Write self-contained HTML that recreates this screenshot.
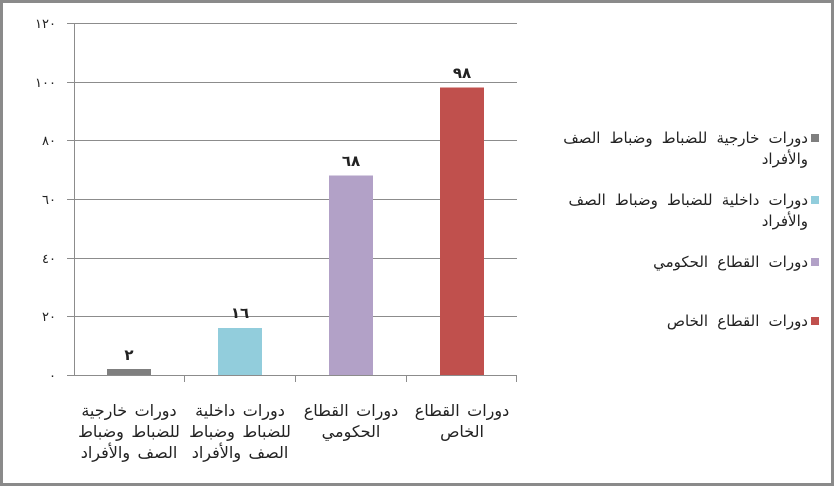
<!DOCTYPE html>
<html><head><meta charset="utf-8"><style>
html,body{margin:0;padding:0;background:#fff;}
svg{display:block;}
text{font-family:"Liberation Sans","DejaVu Sans","Noto Sans CJK SC",sans-serif;}
</style></head><body>
<svg width="834" height="486" viewBox="0 0 834 486" xmlns="http://www.w3.org/2000/svg">
<rect x="1.5" y="1.5" width="831" height="483" fill="#fff" stroke="#8a8a8a" stroke-width="3"/>
<g stroke="#8c8c8c" stroke-width="1">
<line x1="67" y1="23.5" x2="517" y2="23.5"/>
<line x1="67" y1="82.5" x2="517" y2="82.5"/>
<line x1="67" y1="140.5" x2="517" y2="140.5"/>
<line x1="67" y1="199.5" x2="517" y2="199.5"/>
<line x1="67" y1="258.5" x2="517" y2="258.5"/>
<line x1="67" y1="316.5" x2="517" y2="316.5"/>
<line x1="67" y1="375.5" x2="517" y2="375.5"/>
<line x1="74.5" y1="23" x2="74.5" y2="375"/>
<line x1="184.5" y1="375" x2="184.5" y2="382"/>
<line x1="295.5" y1="375" x2="295.5" y2="382"/>
<line x1="406.5" y1="375" x2="406.5" y2="382"/>
<line x1="516.5" y1="375" x2="516.5" y2="382"/>
</g>
<g font-size="13" fill="#222" text-anchor="end" letter-spacing="2">
<text x="56" y="28">١٢٠</text>
<text x="56" y="87">١٠٠</text>
<text x="56" y="145">٨٠</text>
<text x="56" y="204">٦٠</text>
<text x="56" y="263">٤٠</text>
<text x="56" y="321">٢٠</text>
<text x="56" y="380">٠</text>
</g>
<rect x="107" y="369" width="44" height="6" fill="#7f7f7f"/>
<rect x="218" y="328" width="44" height="47" fill="#92cddc"/>
<rect x="329" y="175.5" width="44" height="199.5" fill="#b2a1c7"/>
<rect x="440" y="87.5" width="44" height="287.5" fill="#c0504d"/>
<g font-size="15" font-weight="bold" fill="#222" text-anchor="middle" letter-spacing="3">
<text x="129" y="360">٢</text>
<text x="240" y="318">١٦</text>
<text x="351" y="166">٦٨</text>
<text x="462" y="78">٩٨</text>
</g>
<g font-size="16" fill="#222" text-anchor="middle" word-spacing="3">
<text x="129" y="416">دورات خارجية</text>
<text x="129" y="437">للضباط وضباط</text>
<text x="129" y="458">الصف والأفراد</text>
<text x="240" y="416">دورات داخلية</text>
<text x="240" y="437">للضباط وضباط</text>
<text x="240" y="458">الصف والأفراد</text>
<text x="351" y="416">دورات القطاع</text>
<text x="351" y="437">الحكومي</text>
<text x="462" y="416">دورات القطاع</text>
<text x="462" y="437">الخاص</text>
</g>
<rect x="811" y="134" width="8" height="8" fill="#7f7f7f"/>
<rect x="811" y="196" width="8" height="8" fill="#92cddc"/>
<rect x="811" y="258" width="8" height="8" fill="#b2a1c7"/>
<rect x="811" y="317" width="8" height="8" fill="#c0504d"/>
<g font-size="15" fill="#222" text-anchor="end" word-spacing="5">
<text x="808" y="143">دورات خارجية للضباط وضباط الصف</text>
<text x="808" y="164">والأفراد</text>
<text x="808" y="205">دورات داخلية للضباط وضباط الصف</text>
<text x="808" y="226">والأفراد</text>
<text x="808" y="267">دورات القطاع الحكومي</text>
<text x="808" y="326">دورات القطاع الخاص</text>
</g>
</svg>
</body></html>
